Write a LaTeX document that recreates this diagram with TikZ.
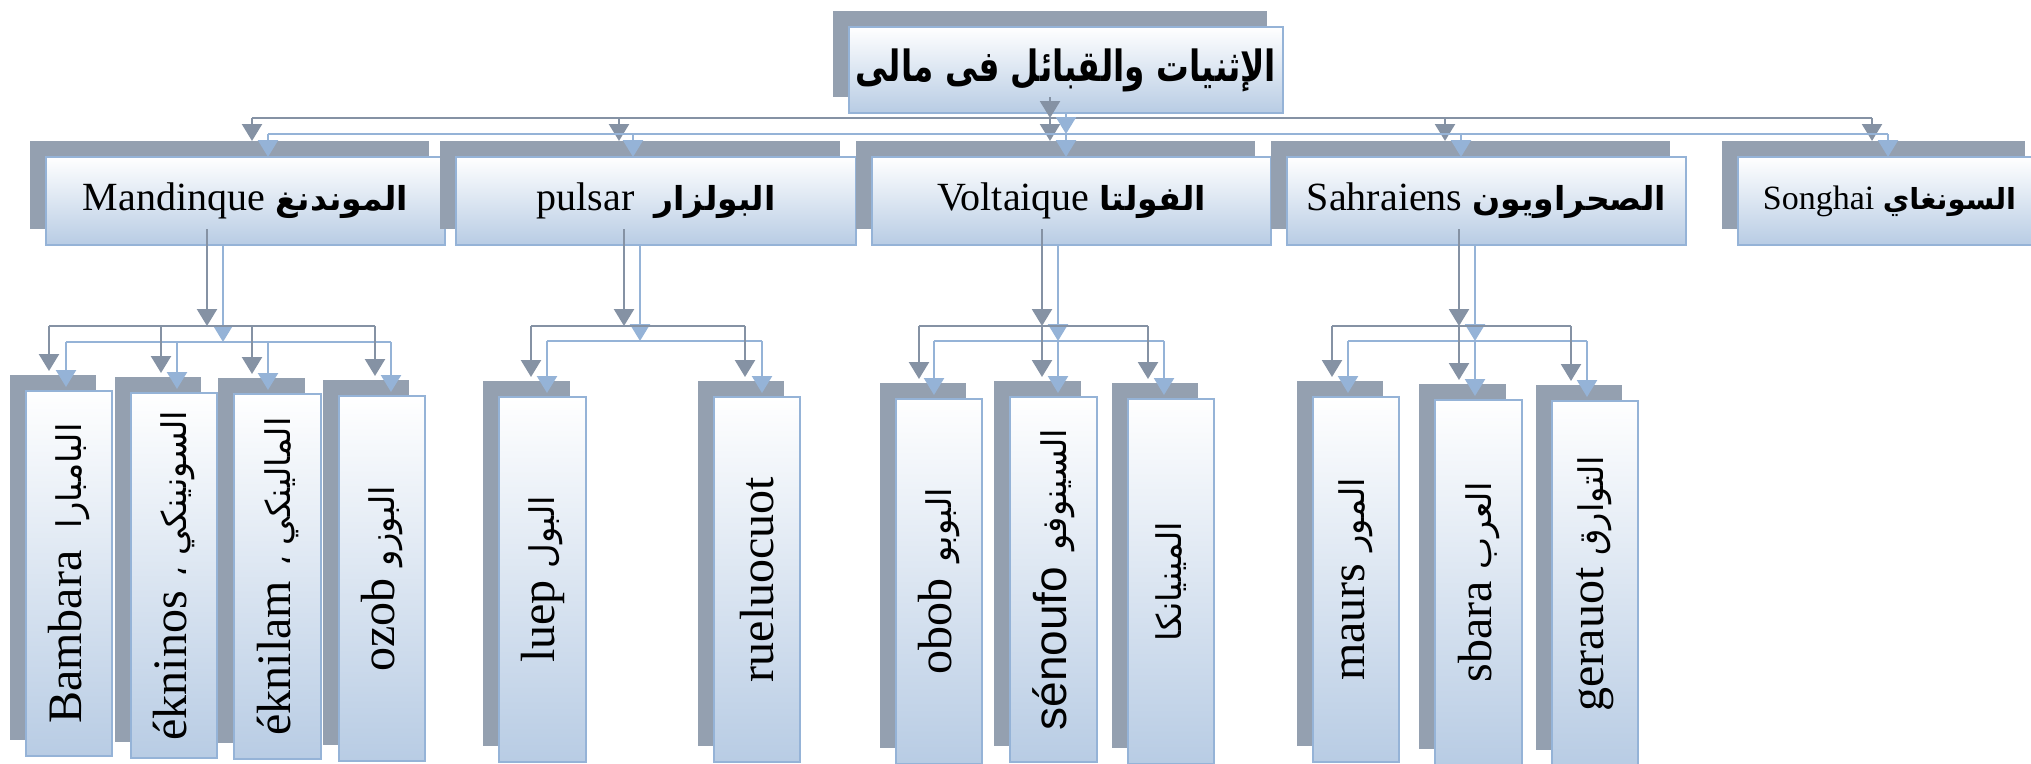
\documentclass[tikz,border=0pt]{standalone}
\usepackage{fontspec}
\setmainfont{Liberation Serif}
\newfontfamily\arabicfont[Script=Arabic]{DejaVu Sans}
\newfontfamily\latinsans{Liberation Sans}
\usetikzlibrary{arrows.meta}
\TeXXeTstate=1
\definecolor{shgray}{RGB}{148,160,176}
\definecolor{lngray}{RGB}{133,146,164}
\definecolor{bdblue}{RGB}{149,179,215}
\definecolor{fillblue}{RGB}{184,204,228}
\definecolor{lnblue}{RGB}{149,179,215}
\newcommand\pairbox[6]{%
  \node[shadowbox,minimum width=#4pt,minimum height=#5pt] (s#1) at ({#2-16},{#3-16}) {};
  \node[mainbox,minimum width=#4pt,minimum height=#5pt] (#1) at (#2,#3) {#6};
}
\newcommand\kidlink[3]{%
  \coordinate (gk#3) at (#1,326);
  \coordinate (bk#3) at (#2,341);
  \draw[garr,shorten >=4pt] (gk#3) -- (gk#3 |- s#3.north);
  \draw[barr,shorten >=4pt] (bk#3) -- (bk#3 |- #3.north);
}
\newcommand\ltwo{\fontsize{48}{56}\selectfont}
\newcommand\artwo{\arabicfont\fontsize{34}{40}\selectfont}
\newcommand\lone{\fontsize{40}{48}\selectfont}
\newcommand\arone{\arabicfont\bfseries\fontsize{33}{40}\selectfont}
\begin{document}
\begin{tikzpicture}[x=1pt,y=-1pt,
  shadowbox/.style={fill=shgray,draw=none,inner sep=0pt,outer sep=0pt,anchor=north west},
  mainbox/.style={draw=bdblue,line width=2pt,top color=white,bottom color=fillblue,inner sep=0pt,outer sep=0pt,anchor=north west},
  gl/.style={draw=lngray,line width=2.4pt},
  bl/.style={draw=lnblue,line width=2.4pt},
  garr/.style={gl,-{Triangle[width=20pt,length=17pt]}},
  barr/.style={bl,-{Triangle[width=20pt,length=17pt]}}]
\useasboundingbox (0,0) rectangle (2031,763);
\clip (0,0) rectangle (2031,763);
% title
\pairbox{top}{849}{27}{434}{86}{\scalebox{0.76}[1]{\arabicfont\bfseries\fontsize{43}{50}\selectfont\beginR الإثنيات والقبائل فى مالى\endR}}
% level 1
\pairbox{mand}{46}{157}{399}{88}{\lone Mandinque {\arone\beginR الموندنغ\endR}}
\pairbox{puls}{456}{157}{400}{88}{\lone pulsar\ \ {\arone\beginR البولزار\endR}}
\pairbox{volt}{872}{157}{399}{88}{\lone Voltaique {\arone\beginR الفولتا\endR}}
\pairbox{sahr}{1287}{157}{399}{88}{\lone Sahraiens {\arone\beginR الصحراويون\endR}}
\pairbox{song}{1738}{157}{303}{88}{\fontsize{34}{40}\selectfont Songhai {\arabicfont\bfseries\fontsize{29}{34}\selectfont\beginR السونغاي\endR}}
% level 2
\pairbox{bamb}{26}{391}{86}{365}{\rotatebox{90}{\ltwo Bambara\hspace{22pt}{\artwo\beginR البامبارا\endR}}}
\pairbox{soni}{131}{393}{86}{365}{\rotatebox{90}{\ltwo ékninos\hspace{14pt}{\artwo\beginR السونينكي ،\endR}}}
\pairbox{mali}{234}{394}{87}{365}{\rotatebox{90}{\ltwo éknilam\hspace{14pt}{\artwo\beginR المالينكي ،\endR}}}
\pairbox{bozo}{339}{396}{86}{365}{\rotatebox{90}{\ltwo ozob {\artwo\beginR البوزو\endR}}}
\pairbox{peul}{499}{397}{87}{365}{\rotatebox{90}{\ltwo luep {\artwo\beginR البول\endR}}}
\pairbox{touc}{714}{397}{86}{365}{\rotatebox{90}{\ltwo rueluocuot}}
\pairbox{bobo}{896}{399}{86}{365}{\rotatebox{90}{\ltwo obob\hspace{16pt}{\artwo\beginR البوبو\endR}}}
\pairbox{seno}{1010}{397}{87}{365}{\rotatebox{90}{{\latinsans\fontsize{46}{54}\selectfont sénoufo}\hspace{16pt}{\artwo\beginR السينوفو\endR}}}
\pairbox{mini}{1128}{399}{86}{365}{\rotatebox{90}{\artwo\beginR المينيانكا\endR}}
\pairbox{maur}{1313}{397}{86}{365}{\rotatebox{90}{\ltwo maurs\hspace{12pt}{\artwo\beginR المور\endR}}}
\pairbox{arab}{1435}{400}{87}{365}{\rotatebox{90}{\ltwo sbara {\artwo\beginR العرب\endR}}}
\pairbox{toua}{1552}{401}{86}{365}{\rotatebox{90}{\ltwo gerauot {\artwo\beginR التوارق\endR}}}
% ---- connectors, level 0
\coordinate (g0) at (1050,118);
\coordinate (b0) at (1066,134);
\coordinate (g0L) at (252,118); \coordinate (g0R) at (1872,118);
\coordinate (b0L) at (268,134); \coordinate (b0R) at (1888,134);
\draw[garr] (stop.south -| g0) -- (g0);
\draw[gl] (g0L) -- (g0R);
\foreach \x/\n in {252/mand,619/puls,1050/volt,1445/sahr,1872/song}{
  \coordinate (gd\n) at (\x,118);
  \draw[garr] (gd\n) -- (gd\n |- s\n.north);
}
\draw[barr] (top.south -| b0) -- (b0);
\draw[bl] (b0L) -- (b0R);
\foreach \x/\n in {268/mand,633/puls,1066/volt,1461/sahr,1888/song}{
  \coordinate (bd\n) at (\x,134);
  \draw[barr] (bd\n) -- (bd\n |- \n.north);
}
% ---- level 1 -> level 2
% Mandinque
\coordinate (gvmand) at (207,326); \coordinate (bvmand) at (223,342);
\draw[garr] (smand.south -| gvmand) -- (gvmand);
\draw[barr] (mand.south -| bvmand) -- (bvmand);
\coordinate (gbm1) at (49,326); \coordinate (gbm2) at (375,326);
\coordinate (bbm1) at (66,342); \coordinate (bbm2) at (391,342);
\draw[gl] (gbm1) -- (gbm2);
\draw[bl] (bbm1) -- (bbm2);
\foreach \g/\b/\n in {49/66/bamb,161/177/soni,252/268/mali,375/391/bozo}{
  \coordinate (gk\n) at (\g,326);
  \coordinate (bk\n) at (\b,342);
  \draw[garr,shorten >=4pt] (gk\n) -- (gk\n |- s\n.north);
  \draw[barr,shorten >=4pt] (bk\n) -- (bk\n |- \n.north);
}
% pulsar
\coordinate (gvpuls) at (624,326); \coordinate (bvpuls) at (640,341);
\draw[garr] (spuls.south -| gvpuls) -- (gvpuls);
\draw[barr] (puls.south -| bvpuls) -- (bvpuls);
\coordinate (gbp1) at (531,326); \coordinate (gbp2) at (745,326);
\coordinate (bbp1) at (547,341); \coordinate (bbp2) at (762,341);
\draw[gl] (gbp1) -- (gbp2);
\draw[bl] (bbp1) -- (bbp2);
\kidlink{531}{547}{peul}
\kidlink{745}{762}{touc}
% Voltaique
\coordinate (gvvolt) at (1042,326); \coordinate (bvvolt) at (1058,341);
\draw[garr] (svolt.south -| gvvolt) -- (gvvolt);
\draw[barr] (volt.south -| bvvolt) -- (bvvolt);
\coordinate (gbv1) at (919,326); \coordinate (gbv2) at (1148,326);
\coordinate (bbv1) at (934,341); \coordinate (bbv2) at (1164,341);
\draw[gl] (gbv1) -- (gbv2);
\draw[bl] (bbv1) -- (bbv2);
\kidlink{919}{934}{bobo}
\kidlink{1042}{1058}{seno}
\kidlink{1148}{1164}{mini}
% Sahraiens
\coordinate (gvsahr) at (1459,326); \coordinate (bvsahr) at (1475,341);
\draw[garr] (ssahr.south -| gvsahr) -- (gvsahr);
\draw[barr] (sahr.south -| bvsahr) -- (bvsahr);
\coordinate (gbs1) at (1332,326); \coordinate (gbs2) at (1571,326);
\coordinate (bbs1) at (1348,341); \coordinate (bbs2) at (1587,341);
\draw[gl] (gbs1) -- (gbs2);
\draw[bl] (bbs1) -- (bbs2);
\kidlink{1332}{1348}{maur}
\kidlink{1459}{1475}{arab}
\kidlink{1571}{1587}{toua}
\end{tikzpicture}
\end{document}
